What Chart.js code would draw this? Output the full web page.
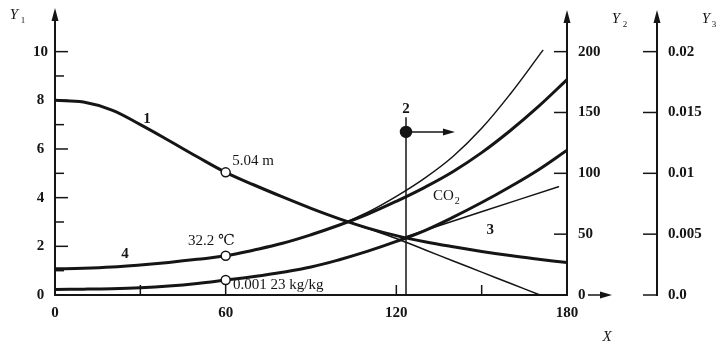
<!DOCTYPE html>
<html>
<head>
<meta charset="utf-8">
<script src="https://cdn.jsdelivr.net/npm/chart.js@4.4.0/dist/chart.umd.min.js"></script>
<style>
html,body{margin:0;padding:0;background:#fff;}
#wrap{width:724px;height:354px;position:relative;}
</style>
</head>
<body>
<div id="wrap"><canvas id="c" width="724" height="354"></canvas></div>
<script>
// ---------- data ----------
const xValues      = [0,10,20,30,40,50,60,70,80,90,100,110,120,130,140,150,160,170,180];
// curve 1 (Y1, m)
const curve1       = [8.0,7.93,7.6,7.0,6.35,5.68,5.04,4.52,4.03,3.56,3.13,2.75,2.44,2.19,1.98,1.79,1.62,1.47,1.33];
const curve1BranchX = [100,110,120,130,140,150,160,170.5];
const curve1Branch  = [3.13,2.73,2.32,1.86,1.40,0.94,0.48,0];
// curve 4 temperature (Y2, °C)
const tempMain     = [21.5,22,23,24.7,26.8,29.3,32.2,37,42.5,49.5,57.5,66.5,77,88.5,101.5,117,135,155,177];
const tempBranchX  = [100,110,120,130,140,150,160,171.5];
const tempBranch   = [57.5,68,81,96,114,137,165,201];
// humidity (Y3, kg/kg)
const humidMain    = [0.00046,0.00048,0.00052,0.0006,0.00074,0.00095,0.00123,0.00152,0.00187,0.0023,0.0029,0.0036,0.0044,0.0053,0.0064,0.0076,0.0089,0.0103,0.0119];
const humidBranchX = [123.4,150.2,177];
const humidBranch  = [0.0048,0.00686,0.0089];
// marked points
const markX = 60;
const markY1 = 5.04, markY2 = 32.2, markY3 = 0.00123;
const point2X = 123.4, point2Y1 = 6.7, point2TopY1 = 7.3, point2ArrowEndX = 140.6;
// tick labels
const xTicks  = [0,60,120,180];
const xMinorTicks = [30,120,150];
const y1Ticks = [0,2,4,6,8,10];
const y2Ticks = [0,50,100,150,200];
const y3Ticks = [0,0.005,0.01,0.015,0.02];
const y3Labels = ['0.0','0.005','0.01','0.015','0.02'];

const pts = (xs, ys) => xs.map((x,i)=>({x:x, y:ys[i]}));
const SERIF = "'Liberation Serif','DejaVu Serif',serif";
const INK = '#151515';

function lineDs(data, axis, width, order){
  return {data:data, yAxisID:axis, borderColor:INK, borderWidth:width, pointRadius:0,
          tension:0.4, fill:false, order:order, borderCapStyle:'round', borderJoinStyle:'round'};
}
function straightDs(data, axis, width, order){
  return {data:data, yAxisID:axis, borderColor:INK, borderWidth:width, pointRadius:0,
          tension:0, fill:false, order:order};
}
function ptDs(data, axis, r, bg){
  return {data:data, yAxisID:axis, showLine:false, pointRadius:r, pointBackgroundColor:bg,
          pointBorderColor:INK, pointBorderWidth:1.5, order:0};
}

const datasets = [
  lineDs(pts(xValues, curve1), 'y1', 3, 2),
  lineDs(pts(curve1BranchX, curve1Branch), 'y1', 1.5, 3),
  lineDs(pts(xValues, tempMain), 'y2', 3, 2),
  lineDs(pts(tempBranchX, tempBranch), 'y2', 1.5, 3),
  lineDs(pts(xValues, humidMain), 'y3', 3, 2),
  lineDs(pts(humidBranchX, humidBranch), 'y3', 1.5, 3),
  straightDs([{x:point2X,y:0},{x:point2X,y:point2TopY1}], 'y1', 1.5, 3),
  straightDs([{x:point2X,y:point2Y1},{x:point2ArrowEndX-3,y:point2Y1}], 'y1', 1.5, 3),
  straightDs([{x:markX,y:0},{x:markX,y:markY3}], 'y3', 1.5, 3),
  ptDs([{x:point2X,y:point2Y1}], 'y1', 5.5, INK),
  ptDs([{x:markX,y:markY1}], 'y1', 4.5, '#fff'),
  ptDs([{x:markX,y:markY2}], 'y2', 4.5, '#fff'),
  ptDs([{x:markX,y:markY3}], 'y3', 4.5, '#fff')
];

const tickFont = {family:SERIF, size:15, weight:'bold'};

const overlay = {
  id:'overlay',
  afterDraw(chart){
    const {ctx, chartArea, scales} = chart;
    const X = scales.x, A = scales.y1, B = scales.y2, C = scales.y3;
    const base = A.getPixelForValue(0);
    ctx.save();
    ctx.strokeStyle = INK; ctx.fillStyle = INK;
    const ax1 = A.right, ax2 = B.left, ax3 = C.left;
    function upArrow(x, tip){
      ctx.lineWidth = 2;
      ctx.beginPath(); ctx.moveTo(x, tip+8); ctx.lineTo(x, chartArea.top+2); ctx.stroke();
      ctx.beginPath(); ctx.moveTo(x, tip); ctx.lineTo(x-3.5, tip+13); ctx.lineTo(x+3.5, tip+13); ctx.closePath(); ctx.fill();
    }
    upArrow(ax1, 8); upArrow(ax2, 10); upArrow(ax3, 10);
    // right arrow on x axis (after Y2 zero label)
    ctx.lineWidth = 1.5;
    ctx.beginPath(); ctx.moveTo(ax2+21, base); ctx.lineTo(ax2+36, base); ctx.stroke();
    ctx.beginPath(); ctx.moveTo(ax2+45, base); ctx.lineTo(ax2+33, base-3.5); ctx.lineTo(ax2+33, base+3.5); ctx.closePath(); ctx.fill();
    // inward ticks
    ctx.lineWidth = 1.5;
    for (let v=1; v<=10; v++){
      const y = A.getPixelForValue(v), len = (v%2===0)?13:9;
      ctx.beginPath(); ctx.moveTo(ax1, y); ctx.lineTo(ax1+len, y); ctx.stroke();
    }
    y2Ticks.forEach(v=>{ const y=B.getPixelForValue(v); ctx.beginPath(); ctx.moveTo(ax2-13,y); ctx.lineTo(ax2,y); ctx.stroke(); });
    y3Ticks.forEach(v=>{ const y=C.getPixelForValue(v); ctx.beginPath(); ctx.moveTo(ax3-14,y); ctx.lineTo(ax3,y); ctx.stroke(); });
    xMinorTicks.forEach(v=>{ const x=X.getPixelForValue(v); ctx.beginPath(); ctx.moveTo(x,base); ctx.lineTo(x,base-10); ctx.stroke(); });
    // arrowhead for point 2
    const ax = X.getPixelForValue(point2ArrowEndX), ay = A.getPixelForValue(point2Y1);
    ctx.beginPath(); ctx.moveTo(ax, ay); ctx.lineTo(ax-12, ay-3.5); ctx.lineTo(ax-12, ay+3.5); ctx.closePath(); ctx.fill();

    function txt(s, x, y, align, font){
      ctx.font = font; ctx.textAlign = align; ctx.textBaseline = 'middle'; ctx.fillText(s, x, y);
    }
    const P = (xv, yv, sc) => [X.getPixelForValue(xv), (sc||A).getPixelForValue(yv)];
    const f15 = '15px ' + SERIF, f15b = 'bold 15px ' + SERIF;
    let p;
    p = P(32.3, 7.24); txt('1', p[0], p[1], 'center', f15b);
    p = P(123.4, 7.64); txt('2', p[0], p[1], 'center', f15b);
    p = P(153, 2.67); txt('3', p[0], p[1], 'center', f15b);
    p = P(24.6, 1.67); txt('4', p[0], p[1], 'center', f15b);
    p = P(62.3, 5.52); txt('5.04 m', p[0], p[1], 'left', f15);
    p = P(46.8, 2.23); txt('32.2 \u2103', p[0], p[1], 'left', f15);
    p = P(62.6, 0.4); txt('0.001 23 kg/kg', p[0], p[1], 'left', f15);
    p = P(132.9, 4.06); txt('CO', p[0], p[1], 'left', f15);
    const coW = ctx.measureText('CO').width;
    txt('2', p[0]+coW+1, p[1]+5, 'left', '10px ' + SERIF);
    const fi = 'italic 15px ' + SERIF, fs = '9px ' + SERIF;
    txt('Y', 14, 15, 'center', fi); txt('1', 23, 21, 'center', fs);
    txt('Y', 616, 19, 'center', fi); txt('2', 625, 25, 'center', fs);
    txt('Y', 706, 19, 'center', fi); txt('3', 714, 25, 'center', fs);
    txt('X', 607, 337, 'center', fi);
    ctx.restore();
  }
};

const noGrid = {display:false, drawTicks:false, drawOnChartArea:false};
const border = {display:true, width:2, color:INK};

new Chart(document.getElementById('c').getContext('2d'), {
  type:'line',
  data:{datasets:datasets},
  options:{
    responsive:false, animation:false, devicePixelRatio:1,
    layout:{padding:{top:11,left:0,right:0,bottom:0}},
    plugins:{legend:{display:false}, tooltip:{enabled:false}},
    scales:{
      x:{type:'linear', position:'bottom', min:0, max:180,
         afterBuildTicks: s => { s.ticks = xTicks.map(v=>({value:v})); },
         ticks:{font:tickFont, color:INK, padding:9, autoSkip:false, maxRotation:0},
         grid:noGrid, border:border,
         afterFit: s => { s.height = 59; }},
      y1:{type:'linear', position:'left', min:0, max:11.3,
          afterBuildTicks: s => { s.ticks = y1Ticks.map(v=>({value:v})); },
          ticks:{font:tickFont, color:INK, padding:7, crossAlign:'center', autoSkip:false},
          grid:noGrid, border:border,
          afterFit: s => { s.width = 55; }},
      y2:{type:'linear', position:'right', weight:0, min:0, max:226,
          afterBuildTicks: s => { s.ticks = y2Ticks.map(v=>({value:v})); },
          ticks:{font:tickFont, color:INK, padding:11, autoSkip:false},
          grid:noGrid, border:border,
          afterFit: s => { s.width = 90; }},
      y3:{type:'linear', position:'right', weight:1, min:0, max:0.0226,
          afterBuildTicks: s => { s.ticks = y3Ticks.map(v=>({value:v})); },
          ticks:{font:tickFont, color:INK, padding:11, autoSkip:false,
                 callback:(v)=>{ const i = y3Ticks.findIndex(t=>Math.abs(t-v)<1e-9); return i>=0 ? y3Labels[i] : null; }},
          grid:noGrid, border:border,
          afterFit: s => { s.width = 67; }}
    }
  },
  plugins:[overlay]
});
</script>
</body>
</html>
